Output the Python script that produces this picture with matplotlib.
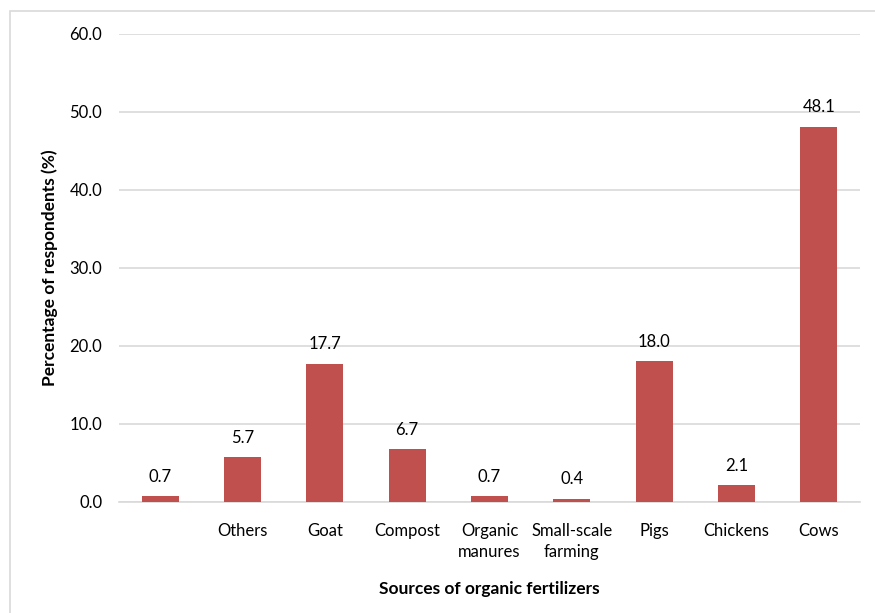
import matplotlib
matplotlib.use("Agg")
import matplotlib.pyplot as plt
from matplotlib.patches import Rectangle

categories = ["", "Others", "Goat", "Compost", "Organic\nmanures",
              "Small-scale\nfarming", "Pigs", "Chickens", "Cows"]
percentages = [0.7, 5.7, 17.7, 6.7, 0.7, 0.4, 18.0, 2.1, 48.1]
y_ticks = [0, 10, 20, 30, 40, 50, 60]

plt.rcParams["font.family"] = ["Lato", "DejaVu Sans"]

W, H = 875, 613
fig = plt.figure(figsize=(W / 100, H / 100), dpi=100)
ax = fig.add_axes([119 / W, 1 - 501.7 / H, (860 - 119) / W, (501.7 - 33.7) / H])

# outer chart frame
fig.patches.append(Rectangle((10 / W, -0.1), 1.2, 1 - 11 / H + 0.1,
                             transform=fig.transFigure, fill=False,
                             edgecolor="#D9D9D9", linewidth=1.2))

x = range(len(categories))
bars = ax.bar(x, percentages, width=0.45, color="#C0504D", zorder=3)
for b, v in zip(bars, percentages):
    ax.text(b.get_x() + b.get_width() / 2, v + 1.5, f"{v:.1f}",
            ha="center", va="bottom", fontsize=12, color="#000000")

ax.set_xlim(-0.5, len(categories) - 0.5)
ax.set_ylim(0, 60)
ax.set_yticks(y_ticks)
ax.set_yticklabels([f"{t:.1f}" for t in y_ticks], fontsize=12)
ax.set_xticks(list(x))
ax.set_xticklabels(categories, fontsize=12, va="top", linespacing=1.45)
ax.tick_params(axis="both", length=0, colors="#000000")
ax.tick_params(axis="y", pad=12)
ax.tick_params(axis="x", pad=15)
ax.yaxis.grid(True, color="#D9D9D9", linewidth=1.2, zorder=0)
for s in ["top", "right", "left"]:
    ax.spines[s].set_visible(False)
ax.spines["bottom"].set_color("#D9D9D9")
ax.spines["bottom"].set_linewidth(1.2)

ax.set_ylabel("Percentage of respondents (%)", fontsize=12.5,
              fontweight="bold", labelpad=8)
ax.set_xlabel("Sources of organic fertilizers", fontsize=12.5,
              fontweight="bold", labelpad=15)

fig.savefig("out.png", dpi=100, facecolor="white")
